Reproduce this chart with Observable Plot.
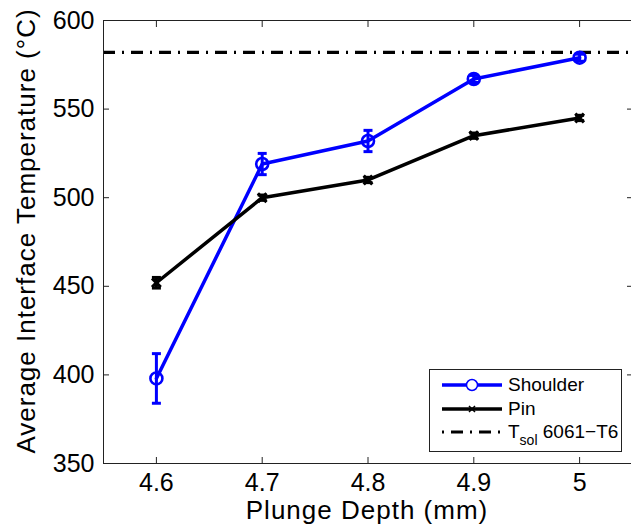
<!DOCTYPE html>
<html>
<head>
<meta charset="utf-8">
<script src="https://cdn.jsdelivr.net/npm/d3@7"></script>
<script src="https://cdn.jsdelivr.net/npm/@observablehq/plot@0.6"></script>
<style>
  html, body { margin: 0; padding: 0; background: #fff; }
  #wrap { position: relative; width: 631px; height: 526px; overflow: hidden; font-family: "Liberation Sans", Arial, sans-serif; }
  #legend { position: absolute; left: 429px; top: 369px; width: 193px; height: 83px; border: 1px solid #222; background: #fff; box-sizing: border-box; }
  .row { position: absolute; left: 0; height: 24px; display: flex; align-items: center; font-size: 19px; color: #000; }
  .row svg { margin-left: 12px; margin-right: 6px; }
  sub { font-size: 14px; vertical-align: -7px; line-height: 0; }
</style>
</head>
<body>
<div id="wrap"></div>
<script>
const depth = [4.6, 4.7, 4.8, 4.9, 5.0];
const shoulder = [398, 519, 532, 567, 579];
const shoulderErr = [14, 6, 6, 2, 2];
const pin = [452, 500, 510, 535, 545];
const pinErr = [3, 1.5, 1.5, 1.5, 1.5];
const tsol = 582;
const xTicks = [4.6, 4.7, 4.8, 4.9, 5];
const yTicks = [350, 400, 450, 500, 550, 600];
const seriesNames = ["Shoulder", "Pin"];
const tsolLabel = ["T", "sol", " 6061\u2212T6"];
const xLabel = "Plunge Depth (mm)";
const yLabel = "Average Interface Temperature (°C)";

const shoulderData = depth.map((d, i) => ({x: d, y: shoulder[i], lo: shoulder[i] - shoulderErr[i], hi: shoulder[i] + shoulderErr[i]}));
const pinData = depth.map((d, i) => ({x: d, y: pin[i], lo: pin[i] - pinErr[i], hi: pin[i] + pinErr[i]}));

const cap = {draw(ctx, size) { const w = Math.sqrt(size / Math.PI); ctx.moveTo(-w, 0); ctx.lineTo(w, 0); }};
const blue = "#0000ff";

function series(data, color, symbol, r, sw) {
  return [
    Plot.ruleX(data, {x: "x", y1: "lo", y2: "hi", stroke: color, strokeWidth: 3}),
    Plot.dot(data, {x: "x", y: "lo", symbol: cap, r: 4.5, stroke: color, strokeWidth: 3, fill: "none"}),
    Plot.dot(data, {x: "x", y: "hi", symbol: cap, r: 4.5, stroke: color, strokeWidth: 3, fill: "none"}),
    Plot.line(data, {x: "x", y: "y", stroke: color, strokeWidth: 3.5}),
    Plot.dot(data, {x: "x", y: "y", symbol, r, stroke: color, strokeWidth: sw, fill: "none"})
  ];
}

const chart = Plot.plot({
  width: 631,
  height: 526,
  marginLeft: 103,
  marginRight: -1,
  marginTop: 20,
  marginBottom: 63,
  style: {fontFamily: "Liberation Sans, Arial, sans-serif", fontSize: "25px", color: "#000", background: "#fff", overflow: "visible"},
  x: {domain: [4.55, 5.05]},
  y: {domain: [350, 600]},
  marks: [
    Plot.ruleY([tsol], {stroke: "#000", strokeWidth: 3.2, strokeDasharray: "12,7,2,7"}),
    ...series(shoulderData, blue, "circle", 6, 2.6),
    ...series(pinData, "#000", "times", 4, 3.2),
    Plot.frame({stroke: "#222", strokeWidth: 1}),
    Plot.axisX(xTicks, {anchor: "bottom", tickSize: 0, tickPadding: 10, fontSize: 25, tickFormat: d => String(d), label: null}),
    Plot.axisX(xTicks, {anchor: "bottom", tickSize: -6, tickFormat: () => "", label: null, stroke: "#222"}),
    Plot.axisX(xTicks, {anchor: "top", tickSize: -6, tickFormat: () => "", label: null, stroke: "#222"}),
    Plot.axisY(yTicks, {anchor: "left", tickSize: 0, tickPadding: 9, fontSize: 25, label: null}),
    Plot.axisY(yTicks, {anchor: "left", tickSize: -6, tickFormat: () => "", label: null, stroke: "#222"}),
    Plot.axisY(yTicks, {anchor: "right", tickSize: -6, tickFormat: () => "", label: null, stroke: "#222"})
  ]
});

const svg = d3.select(chart);
svg.append("text")
  .attr("x", 367).attr("y", 519)
  .attr("text-anchor", "middle")
  .attr("font-size", 26).attr("letter-spacing", "1px").attr("fill", "#000")
  .text(xLabel);
svg.append("text")
  .attr("transform", "translate(35,231) rotate(-90)")
  .attr("text-anchor", "middle")
  .attr("font-size", 26).attr("letter-spacing", "1px").attr("fill", "#000")
  .text(yLabel);

const wrap = document.getElementById("wrap");
wrap.appendChild(chart);

const legend = document.createElement("div");
legend.id = "legend";
const ns = "http://www.w3.org/2000/svg";
function sample(kind) {
  const s = document.createElementNS(ns, "svg");
  s.setAttribute("width", 60); s.setAttribute("height", 20);
  const l = document.createElementNS(ns, "line");
  l.setAttribute("x1", 0); l.setAttribute("x2", 60); l.setAttribute("y1", 10); l.setAttribute("y2", 10);
  l.setAttribute("stroke-width", kind === "tsol" ? 3.2 : 3.5);
  l.setAttribute("stroke", kind === "shoulder" ? blue : "#000");
  if (kind === "tsol") { l.setAttribute("stroke-dasharray", "2,7,12,7"); }
  s.appendChild(l);
  if (kind === "shoulder") {
    const c = document.createElementNS(ns, "circle");
    c.setAttribute("cx", 30); c.setAttribute("cy", 10); c.setAttribute("r", 5.5);
    c.setAttribute("fill", "#fff"); c.setAttribute("stroke", blue); c.setAttribute("stroke-width", 1.5);
    s.appendChild(c);
  } else if (kind === "pin") {
    const p = document.createElementNS(ns, "path");
    p.setAttribute("d", "M27,7L33,13M27,13L33,7");
    p.setAttribute("stroke", "#000"); p.setAttribute("stroke-width", 1.5);
    s.appendChild(p);
  }
  return s;
}
const rows = [
  {kind: "shoulder", top: 3, html: seriesNames[0]},
  {kind: "pin", top: 27, html: seriesNames[1]},
  {kind: "tsol", top: 50, html: tsolLabel[0] + "<sub>" + tsolLabel[1] + "</sub>" + tsolLabel[2]}
];
for (const r of rows) {
  const row = document.createElement("div");
  row.className = "row";
  row.style.top = r.top + "px";
  row.appendChild(sample(r.kind));
  const t = document.createElement("span");
  t.innerHTML = r.html;
  row.appendChild(t);
  legend.appendChild(row);
}
wrap.appendChild(legend);
</script>
</body>
</html>
